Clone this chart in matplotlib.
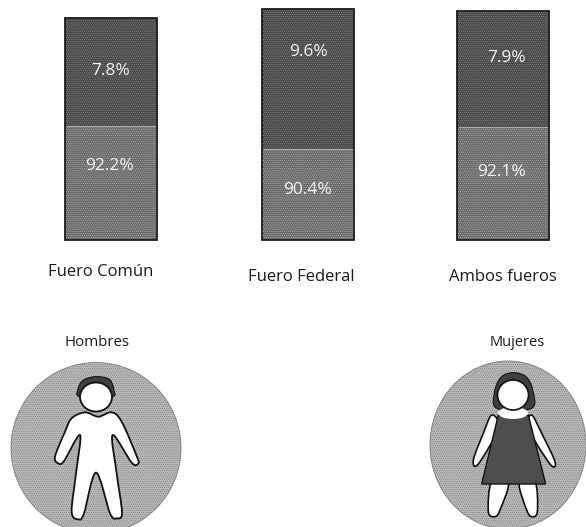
import matplotlib
matplotlib.use("Agg")
import numpy as np
import matplotlib.pyplot as plt
from matplotlib.patches import Ellipse, PathPatch, Polygon
from matplotlib.path import Path

plt.rcParams['font.family'] = ['Open Sans', 'DejaVu Sans']
plt.rcParams['hatch.linewidth'] = 0.5

# Data
categories = ["Fuero Común", "Fuero Federal", "Ambos fueros"]
share_labels_upper = ["7.8%", "9.6%", "7.9%"]
share_labels_lower = ["92.2%", "90.4%", "92.1%"]
# Drawn segment lengths as they appear in the picture (not proportional to the labels)
drawn_lower = [114, 91, 113]
drawn_upper = [108, 140, 116]
group_labels = ["Hombres", "Mujeres"]

W, H = 586, 527
fig = plt.figure(figsize=(W / 100, H / 100), dpi=100, facecolor="white")
ax = fig.add_axes([0, 0, 1, 1])
ax.set_xlim(0, W)
ax.set_ylim(H, 0)
ax.axis("off")

bar_x = [111, 308, 503]
cat_label_pos = [(101, 272), (301, 277), (503, 277)]
upper_text_pos = [(111, 71), (309, 52), (507, 58)]
lower_text_pos = [(110, 166), (308, 190), (501, 172)]
BASE = 240
DARK, MID = "#454545", "#666666"

for i, x in enumerate(bar_x):
    ax.bar(x, -drawn_lower[i], bottom=BASE, width=92, color=MID,
           edgecolor="#b5b5b5", hatch="........", linewidth=0, zorder=2)
    ax.bar(x, -drawn_upper[i], bottom=BASE - drawn_lower[i], width=92, color=DARK,
           edgecolor="#8c8c8c", hatch="........", linewidth=0, zorder=2)
    ax.bar(x, -(drawn_lower[i] + drawn_upper[i]), bottom=BASE, width=92, fill=False,
           edgecolor="#1c1c1c", linewidth=1.3, zorder=3)
    ax.plot([x - 44, x + 44], [BASE - drawn_lower[i]] * 2, color="#b0b0b0", lw=0.7, zorder=3)
    ax.text(*upper_text_pos[i], share_labels_upper[i], color="#f4f4f4", fontsize=12.5,
            ha="center", va="center", zorder=4)
    ax.text(*lower_text_pos[i], share_labels_lower[i], color="#f4f4f4", fontsize=12.5,
            ha="center", va="center", zorder=4)
    ax.text(*cat_label_pos[i], categories[i], color="#1a1a1a", fontsize=12,
            ha="center", va="center", zorder=4)

ax.text(97, 342, group_labels[0], color="#1a1a1a", fontsize=10.8, ha="center", va="center")
ax.text(517, 342, group_labels[1], color="#1a1a1a", fontsize=10.5, ha="center", va="center")


def smooth(pts):
    """Closed Catmull-Rom outline through the given points."""
    p = np.array(pts, float)
    n = len(p)
    verts, codes = [p[0]], [Path.MOVETO]
    for i in range(n):
        p0, p1, p2, p3 = p[i - 1], p[i], p[(i + 1) % n], p[(i + 2) % n]
        verts += [p1 + (p2 - p0) / 6, p2 - (p3 - p1) / 6, p2]
        codes += [Path.CURVE4] * 3
    return Path(verts, codes)


def z(pts, ox, oy):
    return [(ox + a / 3, oy + b / 3) for a, b in pts]


CIRCLE = "#bdbdbd"
LINE = "#111111"
HAIR = "#3f3f3f"
DRESS = "#4e4e4e"

# Man
ax.add_patch(Ellipse((96, 448), 170, 171, fc=CIRCLE, ec="#7a7a7a", lw=0.6, hatch="........", zorder=1))
man = [(255, 187), (215, 205), (195, 245), (165, 320), (175, 340), (192, 333), (240, 255),
       (228, 370), (215, 485), (235, 508), (252, 490), (288, 368), (330, 490), (350, 505),
       (366, 488), (350, 370), (338, 255), (395, 338), (415, 340), (410, 318), (365, 215),
       (335, 187), (295, 200)]
ax.add_patch(PathPatch(smooth(z(man, 0, 350)), fc="white", ec=LINE, lw=1.3, zorder=3))
hair = [(234, 118), (248, 92), (285, 80), (328, 88), (342, 122), (335, 140), (240, 140)]
ax.add_patch(PathPatch(smooth(z(hair, 0, 350)), fc=HAIR, ec=LINE, lw=0.8, zorder=4))
ax.add_patch(Ellipse((96, 397), 32, 29, fc="white", ec=LINE, lw=1.3, zorder=5))

# Woman
ax.add_patch(Ellipse((508, 445), 156, 168, fc=CIRCLE, ec="#7a7a7a", lw=0.6, hatch="........", zorder=1))
for arm in ([(275, 195), (250, 250), (220, 330), (235, 342), (295, 235)],
            [(395, 195), (425, 250), (465, 335), (450, 342), (385, 235)]):
    ax.add_patch(PathPatch(smooth(z(arm, 400, 350)), fc="white", ec=LINE, lw=1.2, zorder=3))
for leg in ([(275, 395), (265, 485), (285, 500), (300, 480), (325, 400)],
            [(358, 400), (380, 480), (395, 500), (412, 485), (405, 395)]):
    ax.add_patch(PathPatch(smooth(z(leg, 400, 350)), fc="white", ec=LINE, lw=1.2, zorder=3))
dress = [(295, 195), (385, 195), (437, 402), (245, 402)]
ax.add_patch(Polygon(z(dress, 400, 350), closed=True, fc=DRESS, ec=LINE, lw=1.0, zorder=4))
hair_w = [(290, 175), (285, 120), (305, 80), (340, 68), (378, 80), (398, 120), (395, 175)]
ax.add_patch(PathPatch(smooth(z(hair_w, 400, 350)), fc=HAIR, ec=LINE, lw=0.8, zorder=4))
ax.add_patch(Ellipse((513, 413), 30, 12, fc="white", ec="none", zorder=5))
ax.add_patch(Ellipse((513, 395), 31, 30, fc="white", ec=LINE, lw=1.2, zorder=6))

fig.savefig("out.png", dpi=100, facecolor="white")
